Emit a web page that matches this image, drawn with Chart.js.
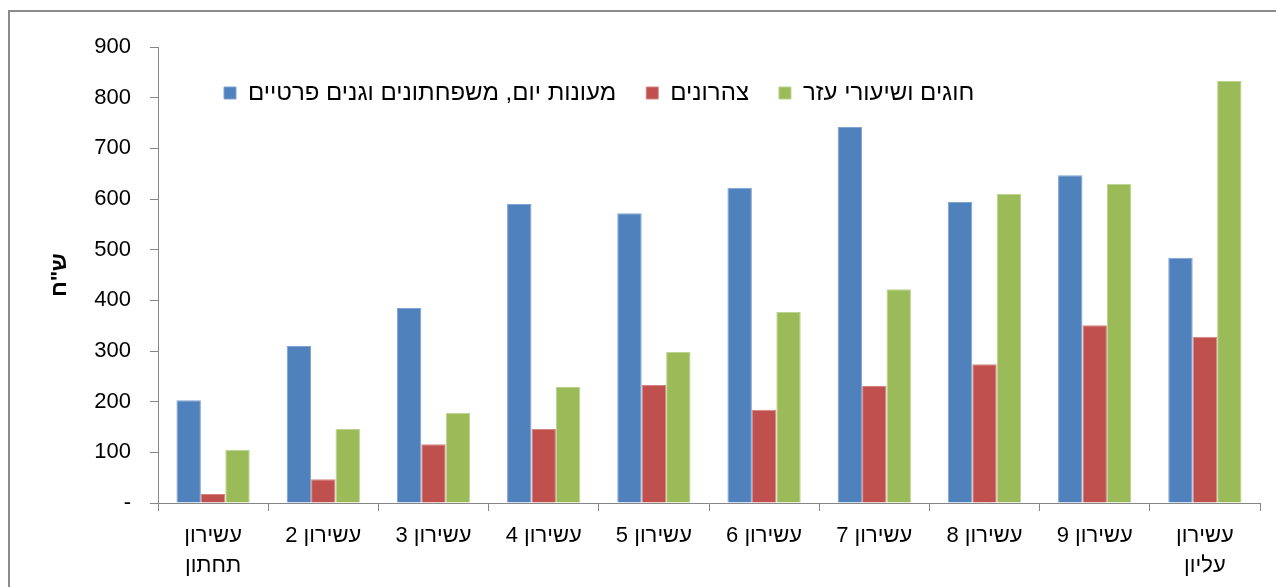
<!DOCTYPE html>
<html>
<head>
<meta charset="utf-8">
<script src="https://cdn.jsdelivr.net/npm/chart.js@4.4.1/dist/chart.umd.min.js"></script>
<style>
  html, body { margin: 0; padding: 0; background: #fff; overflow: hidden; }
  #frame { position: absolute; left: 8px; top: 10px; width: 2000px; height: 2000px; border: 2px solid #8c8c8c; box-sizing: border-box; }
  #wrap { position: absolute; left: 0; top: 0; width: 1276px; height: 587px; }
</style>
</head>
<body>
<div id="frame"></div>
<div id="wrap"><canvas id="c" dir="rtl" width="1276" height="587"></canvas></div>
<script>
const categories = [['עשירון', 'תחתון'], 'עשירון 2', 'עשירון 3', 'עשירון 4', 'עשירון 5', 'עשירון 6', 'עשירון 7', 'עשירון 8', 'עשירון 9', ['עשירון', 'עליון']];
const seriesNames = ['מעונות יום, משפחתונים וגנים פרטיים', 'צהרונים', 'חוגים ושיעורי עזר'];
const daycare = [203, 310, 385, 590, 572, 622, 742, 594, 647, 484];
const afterSchool = [18, 47, 116, 146, 233, 184, 231, 274, 351, 328];
const classes = [105, 146, 178, 229, 298, 377, 422, 610, 630, 833];
const yTicks = [0, 100, 200, 300, 400, 500, 600, 700, 800, 900];
const yTitle = 'ש"ח';

const FONT = "'Liberation Sans', Arial, 'DejaVu Sans', sans-serif";

// Keep the library legend, but let it float inside the plot area (as in the original)
const legendMover = {
  id: 'legendMover',
  beforeLayout(chart) {
    const lg = chart.legend;
    if (!lg || lg._patched) return;
    const origFit = lg.fit.bind(lg);
    lg.fit = function () { origFit(); this._realH = this.height; this.height = 0; };
    lg._patched = true;
  },
  afterLayout(chart) {
    const lg = chart.legend;
    if (!lg) return;
    const pad = lg.options.labels.padding;
    const w = lg.width;
    lg.left = 224 - pad;
    lg.right = lg.left + w;
    lg.top = 92 - pad - 11;
    lg.bottom = lg.top + (lg._realH || 0);
  }
};

new Chart(document.getElementById('c'), {
  type: 'bar',
  data: {
    labels: categories,
    datasets: [
      { label: seriesNames[0], data: daycare, backgroundColor: '#4F81BD', borderColor: '#7FA3D3', borderWidth: 1 },
      { label: seriesNames[1], data: afterSchool, backgroundColor: '#C0504D', borderColor: '#D48582', borderWidth: 1 },
      { label: seriesNames[2], data: classes, backgroundColor: '#9BBB59', borderColor: '#BCD48E', borderWidth: 1 }
    ]
  },
  plugins: [legendMover],
  options: {
    responsive: false,
    animation: false,
    devicePixelRatio: 1,
    layout: { padding: { left: 0, top: 47, right: 16, bottom: 0 } },
    datasets: { bar: { categoryPercentage: 0.665, barPercentage: 1.0 } },
    plugins: {
      tooltip: { enabled: false },
      legend: {
        position: 'top',
        align: 'start',
        labels: {
          boxWidth: 12, boxHeight: 12, padding: 30,
          color: '#000',
          font: { family: FONT, size: 24 }
        }
      }
    },
    scales: {
      x: {
        afterFit(s) { s.height = 84; },
        grid: { display: true, drawOnChartArea: false, offset: true, tickLength: 8, color: '#868686', lineWidth: 1 },
        border: { display: true, color: '#868686', width: 1 },
        ticks: { color: '#000', padding: 10, maxRotation: 0, autoSkip: false, font: { family: FONT, size: 22, lineHeight: 1.36 } }
      },
      y: {
        min: 0, max: 900,
        afterFit(s) { s.width = 158; },
        afterBuildTicks(s) { s.ticks = yTicks.map(v => ({ value: v })); },
        grid: { display: true, drawOnChartArea: false, tickLength: 8, color: '#868686', lineWidth: 1 },
        border: { display: true, color: '#868686', width: 1 },
        ticks: {
          color: '#000', padding: 19,
          font: { family: FONT, size: 22 },
          callback: (v) => v === 0 ? '-' : String(v)
        },
        title: {
          display: true, text: yTitle, color: '#000',
          padding: { top: 47, bottom: 0 },
          font: { family: FONT, size: 22, weight: 'bold' }
        }
      }
    }
  }
});
</script>
</body>
</html>
